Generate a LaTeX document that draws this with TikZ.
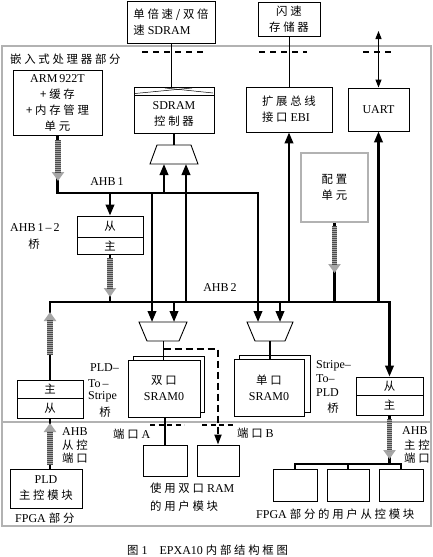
\documentclass[tikz,border=0pt]{standalone}
\usepackage{fontspec}
\setmainfont{Liberation Serif}
\newfontfamily\cjkfont{Noto Sans CJK SC}[LetterSpace=24,Scale=0.95]
\newcommand\zhs[1]{{\cjkfont #1}}
\usetikzlibrary{arrows.meta}
\begin{document}
\begin{tikzpicture}[x=1pt,y=-1pt,
  font=\fontsize{12}{16}\selectfont,
  line join=miter,
  box/.style={draw, line width=0.9pt, fill=white, inner sep=0pt, align=center},
  gbox/.style={draw=gray!60, line width=1.1pt, fill=white, inner sep=0pt, align=center},
  lbl/.style={inner sep=0pt, anchor=west, align=left},
  clbl/.style={inner sep=0pt, align=center},
  bus/.style={line width=2.2pt},
  arr/.style={line width=2.2pt, -{Triangle[length=11pt,width=8.5pt]}},
  thinln/.style={line width=0.9pt},
  medln/.style={line width=1.6pt},
  darr/.style={line width=1.8pt, dash pattern=on 7pt off 4pt, -{Triangle[length=10pt,width=7pt]}},
  ddash/.style={line width=1.8pt, dash pattern=on 6pt off 5pt},
  pdash/.style={line width=1.2pt, dash pattern=on 5pt off 3.5pt},
  uarr/.style={line width=1.1pt, {Triangle[length=8pt,width=6pt]}-{Triangle[length=8pt,width=6pt]}},
  gshaft/.style={line width=5.5pt, draw=gray!70, -{Triangle[length=9pt,width=12pt,fill=gray!70]}},
  gtex/.style={line width=5.5pt, draw=black!70, dash pattern=on 0.8pt off 1.2pt, shorten >=8pt},
  mux/.style={draw, line width=0.9pt, fill=white}
]
\useasboundingbox (0,0) rectangle (433,557);
\fill[white] (0,0) rectangle (433,557);

% regions
\draw[gray!60, line width=1.3pt] (2,46) rectangle (431,526);
\draw[gray!60, line width=1.3pt] (2,422) -- (431,422);
\node[lbl] at (10,59) {\zhs{嵌入式处理器部分}};
\node[lbl] at (15,518) {FPGA \zhs{部分}};

% external boxes
\node[box, minimum width=88pt, minimum height=42pt, align=left] (sdram) at (171,22) {\zhs{单倍速/双倍}\\\zhs{速} SDRAM};
\node[box, minimum width=62pt, minimum height=34pt] (flash) at (289,19) {\zhs{闪速}\\\zhs{存储器}};
\draw[ddash] (142,52) -- (205,52);
\draw[ddash] (259,52) -- (307,52);
\draw[ddash] (363,52) -- (395,52);

% processor blocks
\node[box, minimum width=89pt, minimum height=65pt] (arm) at (57.5,102.5) {ARM\,922T\\\zhs{+缓存}\\\zhs{+内存管理}\\\zhs{单元}};
\node[box, minimum width=80pt, minimum height=46pt] (sdramctl) at (174,110) {};
\draw[thinln] (134,95) -- (214,95);
\draw[line width=0.5pt] (135,93.5) -- (192,88);
\draw[line width=0.5pt] (165,88) -- (213,93);
\node[clbl] at (174,114) {SDRAM\\\zhs{控制器}};
\node[box, minimum width=86pt, minimum height=45pt, align=left] (ebi) at (289,109.5) {\zhs{扩展总线}\\\zhs{接口} EBI};
\node[box, minimum width=61pt, minimum height=43pt] (uart) at (378.5,109.5) {UART};
\node[gbox, minimum width=67pt, minimum height=69pt] (config) at (334.5,187.5) {\zhs{配置}\\\zhs{单元}};
\coordinate (uartext) at (378.5,31);

% external connections
\draw[thinln] (sdram.south) -- (sdram.south |- sdramctl.north);
\draw[thinln] (flash.south) -- (flash.south |- ebi.north);
\draw[uarr] (uartext) -- (uart.north);

% SDRAM mux
\draw[mux] (157,145) -- (191,145) -- (198,164) -- (150,164) -- cycle;
\coordinate (smuxT) at (174,145);
\coordinate (smuxB) at (174,164);
\draw[medln] (sdramctl.south) -- (smuxT);

% bridge AHB1-2
\node[box, minimum width=66pt, minimum height=21pt] (b12s) at (110,226.5) {\zhs{从}};
\node[box, minimum width=66pt, minimum height=17pt] (b12m) at (110,245.5) {\zhs{主}};
\node[lbl] at (10,228) {AHB\,1\,–\,2};
\node[clbl] at (34,244) {\zhs{桥}};

% SRAM muxes
\draw[mux] (139,322) -- (187,322) -- (179,341) -- (147,341) -- cycle;
\coordinate (dmuxB) at (163.5,341);
\draw[mux] (247,322) -- (293,322) -- (285,341) -- (255,341) -- cycle;
\coordinate (smux2B) at (270,341);

% SRAM blocks
\node[box, minimum width=71pt, minimum height=56pt] (dsramb) at (168.5,384) {};
\node[box, minimum width=72pt, minimum height=57pt] (dsram) at (164,388.5) {\zhs{双口}\\SRAM0};
\node[box, minimum width=71pt, minimum height=57pt] (ssramb) at (274.5,383.5) {};
\node[box, minimum width=70pt, minimum height=57pt] (ssram) at (269,387.5) {\zhs{单口}\\SRAM0};
\draw[medln] (dmuxB) -- (dmuxB |- dsram.north);
\draw[medln] (smux2B) -- (smux2B |- ssram.north);

% bridges
\node[box, minimum width=66pt, minimum height=18pt] (p2sm) at (50,389) {\zhs{主}};
\node[box, minimum width=66pt, minimum height=20pt] (p2ss) at (50,408) {\zhs{从}};
\node[box, minimum width=67pt, minimum height=18pt] (s2ps) at (389.5,386) {\zhs{从}};
\node[box, minimum width=67pt, minimum height=20pt] (s2pm) at (389.5,405) {\zhs{主}};
\node[lbl] at (90,368) {PLD–};
\node[lbl] at (88,384) {To\,–};
\node[lbl] at (88,397) {Stripe};
\node[clbl] at (105,412) {\zhs{桥}};
\node[lbl] at (316,366) {Stripe–};
\node[lbl] at (316,379) {To–};
\node[lbl] at (316,393) {PLD};
\node[clbl] at (333,408) {\zhs{桥}};

% buses
\coordinate (a1R) at (258,193);
\coordinate (a2R) at (389.5,302);
\draw[arr] (arm.south) |- (a1R) -- (258,322);
\draw[arr] (p2sm.north) |- (a2R) -- (s2ps.north);
\node[clbl] at (107,182) {AHB\,1};
\node[clbl] at (220,288) {AHB\,2};

% taps from AHB1
\draw[arr] (b12s.north |- a1R) -- (b12s.north);
\draw[arr] (152,193) -- (152,322);
\draw[arr] (164,193) -- (164,164);
% taps from AHB2
\draw[arr] (186,302) -- (186,164);
\draw[arr] (174,302) -- (174,322);
\draw[arr] (280,302) -- (280,322);
\draw[arr] (ebi.south |- a2R) -- (ebi.south);
\draw[arr] (uart.south |- a2R) -- (uart.south);
\draw[bus] (config.south) -- (config.south |- a2R);
\draw[bus] (b12m.south) -- (b12m.south |- a2R);

% gray hatched arrows
\draw[gshaft] (58,140) -- (58,181);
\draw[gtex] (58,140) -- (58,181);
\draw[gshaft] (110,258) -- (110,297);
\draw[gtex] (110,258) -- (110,297);
\draw[gshaft] (334.5,226) -- (334.5,273);
\draw[gtex] (334.5,226) -- (334.5,273);
\draw[gshaft] (50,355) -- (50,312);
\draw[gtex] (50,355) -- (50,312);

% FPGA part
\node[box, minimum width=72pt, minimum height=39pt] (pld) at (46,488.5) {PLD\\\zhs{主控模块}};
\draw[bus] (p2ss.south |- pld.north) -- (p2ss.south);
\draw[gshaft] (50,465) -- (50,423);
\draw[gtex] (50,465) -- (50,423);
\node[lbl] at (62,432) {AHB};
\node[lbl] at (62,445) {\zhs{从控}};
\node[lbl] at (62,458) {\zhs{端口}};

\node[box, minimum width=44pt, minimum height=31pt] (user1) at (165,460.5) {};
\node[box, minimum width=42pt, minimum height=31pt] (user2) at (218,460.5) {};
\draw[medln] (dsram.south -| user1.north) -- (user1.north);
\coordinate (dsplit) at (163.5,349);
\coordinate (dcorner) at (218,349);
\draw[darr] (dsplit) -- (dcorner) -- (user2.north);
\draw[pdash] (150,425) -- (184,425);
\draw[pdash] (202,425) -- (233,425);
\node[lbl] at (113,434) {\zhs{端口} A};
\node[lbl] at (237,433) {\zhs{端口} B};
\node[lbl] at (150,488) {\zhs{使用双口} RAM};
\node[lbl] at (150,506) {\zhs{的用户模块}};

\node[box, minimum width=44pt, minimum height=32pt] (fs1) at (295,485) {};
\node[box, minimum width=42pt, minimum height=32pt] (fs2) at (348,485) {};
\node[box, minimum width=44pt, minimum height=32pt] (fs3) at (401,485) {};
\coordinate (fbus) at (348,464);
\draw[bus] (fs1.north) |- (fbus) -| (fs3.north);
\draw[bus] (fs2.north) -- (fbus);
\draw[bus] (s2pm.south) -- (s2pm.south |- fbus);
\draw[gshaft] (389.5,419) -- (389.5,459);
\draw[gtex] (389.5,419) -- (389.5,459);
\node[lbl] at (402,431) {AHB};
\node[lbl] at (404,445) {\zhs{主控}};
\node[lbl] at (404,458) {\zhs{端口}};
\node[lbl] at (256,514) {FPGA \zhs{部分的用户从控模块}};

% caption
\node[lbl] at (127,550) {\zhs{图} 1\quad EPXA10 \zhs{内部结构框图}};
\end{tikzpicture}
\end{document}
